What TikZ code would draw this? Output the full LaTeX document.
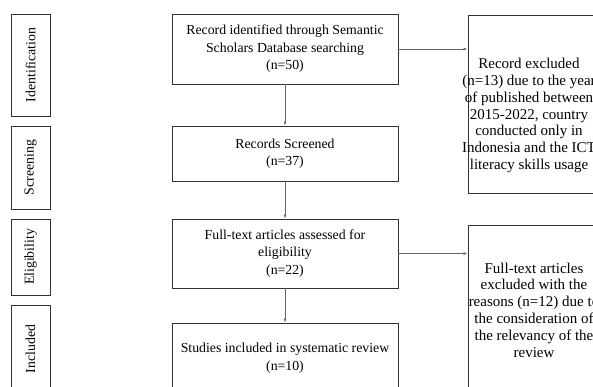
\documentclass[tikz,border=0pt]{standalone}
\usepackage{fontspec}
\setmainfont{Liberation Serif}
\usetikzlibrary{arrows.meta}
\begin{document}
\begin{tikzpicture}[x=1pt,y=-1pt,
    box/.style={draw=black!80,line width=0.9pt,align=center,inner sep=0pt,
        font=\fontsize{13.8}{17.5}\selectfont},
    stage/.style={box,minimum width=39pt,rotate=90},
    sidebox/.style={draw=black!80,line width=0.9pt,minimum width=140pt},
    sidetext/.style={align=center,font=\fontsize{15}{16.8}\selectfont},
    arr/.style={draw=black!60,line width=0.8pt,-{Latex[length=4pt,width=3pt]}}]
    \useasboundingbox (0,0) rectangle (593,387);
    \clip (0,0) rectangle (593,387);

    % stages on the left
    \node[stage,minimum width=102pt,minimum height=39pt] (ident) at (30.5,65) {Identification};
    \node[stage,minimum width=83pt,minimum height=39pt] (screen) at (30.5,167.5) {Screening};
    \node[stage,minimum width=76pt,minimum height=39pt] (elig) at (30.5,257) {Eligibility};
    \node[stage,minimum width=88pt,minimum height=39pt] (incl) at (30.5,349) {Included};

    % main column
    \node[box,minimum width=226pt,minimum height=70pt] (found) at (285,49)
        {Record identified through Semantic\\Scholars Database searching\\(n=50)};
    \node[box,minimum width=226pt,minimum height=55pt] (screened) at (285,153.5)
        {Records Screened\\(n=37)};
    \node[box,minimum width=226pt,minimum height=69pt] (assessed) at (285,253.5)
        {Full-text articles assessed for\\eligibility\\(n=22)};
    \node[box,minimum width=226pt,minimum height=70pt] (studies) at (285,358)
        {Studies included in systematic review\\(n=10)};

    % excluded boxes on the right
    \node[sidebox,minimum height=178pt] (excl) at (538,104) {};
    \node[sidetext] (excltxt) at (529,115.5)
        {Record excluded\\(n=13) due to the year\\of published between\\2015-2022, country\\conducted only in\\Indonesia and the ICT\\literacy skills usage};
    \node[sidebox,minimum height=170pt] (fexcl) at (538,310) {};
    \node[sidetext] (fexcltxt) at (534,310)
        {Full-text articles\\excluded with the\\reasons (n=12) due to\\the consideration of\\the relevancy of the\\review};

    % arrows
    \draw[arr] (found) -- (screened);
    \draw[arr] (screened) -- (assessed);
    \draw[arr] (assessed) -- (studies);
    \draw[arr] (found.east) -- (found.east -| excl.west);
    \draw[arr] (assessed.east) -- (assessed.east -| fexcl.west);
\end{tikzpicture}
\end{document}
